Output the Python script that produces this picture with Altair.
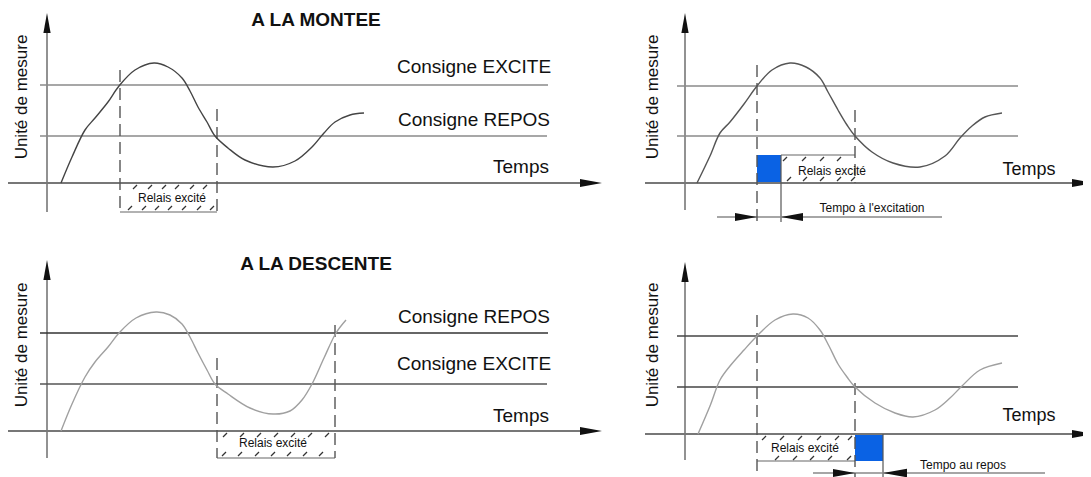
import altair as alt
import pandas as pd

# ---------------- data (pixel space of the picture) -------------
panels = ["montee", "descente", "excit", "repos"]

# response curves (x, y) per panel
curve_x = {
    "montee":   [61, 72, 85, 95, 108, 119, 135, 154, 168, 182, 190, 198, 207, 215, 228, 245, 273, 295, 312, 324, 335, 350, 364],
    "descente": [61, 72, 85, 95, 108, 119, 136, 156, 170, 182, 190, 198, 207, 215, 228, 250, 273, 290, 302, 312, 324, 336, 346],
    "excit":    [697, 710, 720, 730, 744, 757, 772, 790, 806, 820, 828, 838, 847, 855, 872, 893, 920, 945, 960, 972, 985, 1002],
    "repos":    [698, 710, 720, 730, 744, 757, 775, 793, 808, 820, 829, 838, 847, 855, 875, 895, 913, 935, 950, 962, 980, 1002],
}
curve_y = {
    "montee":   [183, 157, 130, 118, 102, 86, 70, 63, 67, 78, 91, 107, 122, 136, 148, 160, 167, 161, 147, 133, 122, 115, 113],
    "descente": [431, 404, 377, 362, 347, 333, 318, 312, 315, 324, 337, 353, 370, 384, 394, 408, 414, 411, 400, 384, 358, 333, 320],
    "excit":    [183, 156, 133, 122, 104, 86, 70, 63, 67, 78, 92, 110, 125, 136, 152, 163, 167, 156, 138, 126, 117, 113],
    "repos":    [434, 406, 380, 366, 350, 336, 320, 314, 318, 330, 346, 364, 377, 387, 403, 413, 417, 410, 398, 386, 370, 363],
}
curve_color = {"montee": "#444444", "descente": "#a0a0a0", "excit": "#555555", "repos": "#a0a0a0"}

# solid segments: x, x2, y, y2, colour, width
seg_x  = [47, 8, 40, 40, 120,   47, 8, 40, 40, 217,   685, 645, 677, 677, 781, 781, 717,   685, 645, 677, 677, 757, 883, 813]
seg_x2 = [47, 585, 548, 547, 217,   47, 585, 548, 547, 335,   685, 1078, 1018, 1018, 855, 781, 942,   685, 1078, 1018, 1018, 855, 883, 1045]
seg_y  = [30, 183, 85, 136, 212,   277, 431, 333, 384, 458,   30, 183, 86, 136, 155, 155, 217,   280, 434, 336, 387, 461, 434, 473]
seg_y2 = [212, 183, 85, 136, 212,   458, 431, 333, 384, 458,   210, 183, 86, 136, 155, 222, 217,   460, 434, 336, 387, 461, 477, 473]
seg_c  = ["#777777", "#777777", "#8a8a8a", "#8a8a8a", "#666666",
          "#777777", "#777777", "#333333", "#555555", "#666666",
          "#777777", "#777777", "#8a8a8a", "#8a8a8a", "#666666", "#555555", "#888888",
          "#777777", "#777777", "#444444", "#444444", "#666666", "#555555", "#888888"]
seg_w  = [1.6, 1.8, 1.4, 1.4, 1.2,
          1.6, 1.8, 1.6, 1.4, 1.2,
          1.6, 1.8, 1.4, 1.4, 1.2, 1.2, 1.4,
          1.6, 1.8, 1.6, 1.6, 1.2, 1.2, 1.4]

# dashed vertical markers
dash_x  = [120, 217, 217, 335, 757, 855, 757, 855]
dash_y  = [70, 109, 358, 325, 65, 110, 315, 383]
dash_y2 = [212, 212, 458, 458, 227, 183, 477, 477]

# blue delay blocks
blue_x  = [757, 855]
blue_x2 = [781, 883]
blue_y  = [155, 434]
blue_y2 = [183, 461]

# hatch ticks (x position, top of tick)
hatch_x = [133, 148, 162, 175, 190, 203,
           128, 142, 155, 168, 182, 197, 210,
           223, 240, 257, 274, 291, 308, 325,
           222, 238, 255, 271, 287, 303, 319,
           783, 802, 820, 837,
           787, 803, 820, 837, 851,
           762, 780, 798, 817, 835, 848,
           775, 793, 810, 828, 847]
hatch_y = [185] * 6 + [206] * 7 + [433] * 7 + [452] * 7 + [157] * 4 + [177] * 5 + [436] * 6 + [456] * 5

# arrow heads: centre x, centre y, direction angle, length
arrow_x = [47, 591, 47, 591, 685, 1083, 746, 792, 685, 1083, 844, 895]
arrow_y = [23, 183, 270, 431, 23, 183, 217, 217, 272, 434, 473, 473]
arrow_a = [0, 90, 0, 90, 0, 90, 90, 270, 0, 90, 90, 270]
arrow_l = [20, 22, 20, 22, 20, 22, 22, 22, 20, 22, 22, 24]

# labels
lab_text = ["Consigne EXCITE", "Consigne REPOS", "Temps",
            "Consigne REPOS", "Consigne EXCITE", "Temps",
            "Temps", "Temps",
            "Relais excité", "Relais excité", "Relais excité", "Relais excité",
            "Tempo à l'excitation", "Tempo au repos"]
lab_x = [474, 474, 521, 474, 474, 521, 1029, 1029, 172, 273, 832, 805, 872, 963]
lab_y = [67, 120, 167, 317, 364, 416, 170, 416, 198, 443, 171, 448, 208, 465]
lab_size = [19, 19, 19, 19, 19, 19, 18, 18, 12, 12, 12, 12, 12, 12]

title_text = ["A LA MONTEE", "A LA DESCENTE"]
title_x = [316, 316]
title_y = [20, 264]

ylab_text = ["Unité de mesure"] * 4
ylab_x = [22, 22, 653, 653]
ylab_y = [97, 345, 97, 345]

# ---------------- build tables ----------------
rows = []
for p in panels:
    for i, (xv, yv) in enumerate(zip(curve_x[p], curve_y[p])):
        rows.append({"p": p, "i": i, "x": xv, "y": yv, "c": curve_color[p]})
curves = pd.DataFrame(rows)

segs = pd.DataFrame({"x": seg_x, "x2": seg_x2, "y": seg_y, "y2": seg_y2, "c": seg_c, "w": seg_w})
dashes = pd.DataFrame({"x": dash_x, "y": dash_y, "y2": dash_y2})
blues = pd.DataFrame({"x": blue_x, "x2": blue_x2, "y": blue_y, "y2": blue_y2})
hatch = pd.DataFrame({"x": hatch_x, "y2": hatch_y})
hatch["x2"] = hatch["x"] + 4
hatch["y"] = hatch["y2"] + 4
arrows = pd.DataFrame({"x": arrow_x, "y": arrow_y, "a": arrow_a, "s": [l * l for l in arrow_l]})
labels = pd.DataFrame({"x": lab_x, "y": lab_y, "t": lab_text, "fs": lab_size})
titles = pd.DataFrame({"x": title_x, "y": title_y, "t": title_text})
ylabs = pd.DataFrame({"x": ylab_x, "y": ylab_y, "t": ylab_text})

XS = alt.Scale(domain=[8, 1083], nice=False, zero=False)
YS = alt.Scale(domain=[8, 477], nice=False, zero=False, reverse=True)
X = alt.X("x:Q", scale=XS, axis=None)
Y = alt.Y("y:Q", scale=YS, axis=None)
FONT = "Liberation Sans"

seg_layer = alt.Chart(segs).mark_rule().encode(
    x=X, x2="x2:Q", y=Y, y2="y2:Q",
    color=alt.Color("c:N", scale=None),
    strokeWidth=alt.StrokeWidth("w:Q", scale=None),
)
dash_layer = alt.Chart(dashes).mark_rule(color="#555555", strokeWidth=1.4, strokeDash=[12, 6]).encode(
    x=X, y=Y, y2="y2:Q"
)
blue_layer = alt.Chart(blues).mark_rect(color="#0a62e4").encode(x=X, x2="x2:Q", y=Y, y2="y2:Q")
hatch_layer = alt.Chart(hatch).mark_rule(color="#333333", strokeWidth=1.2).encode(
    x=X, x2="x2:Q", y=Y, y2="y2:Q"
)
curve_layer = alt.Chart(curves).mark_line(interpolate="catmull-rom", strokeWidth=1.4).encode(
    x=X, y=Y, detail="p:N", order="i:Q", color=alt.Color("c:N", scale=None)
)
arrow_layer = alt.Chart(arrows).mark_point(
    shape="M0,-1L0.36,1L-0.36,1Z", filled=True, color="#111111", opacity=1, strokeWidth=0
).encode(
    x=X, y=Y, angle=alt.Angle("a:Q", scale=None), size=alt.Size("s:Q", scale=None)
)
label_layer = alt.Chart(labels).mark_text(font=FONT, color="#111111", align="center", baseline="middle").encode(
    x=X, y=Y, text="t:N", size=alt.Size("fs:Q", scale=None)
)
title_layer = alt.Chart(titles).mark_text(
    font=FONT, fontSize=19, fontWeight="bold", color="#111111", align="center", baseline="middle"
).encode(x=X, y=Y, text="t:N")
ylab_layer = alt.Chart(ylabs).mark_text(
    font=FONT, fontSize=17, angle=270, color="#111111", align="center", baseline="middle"
).encode(x=X, y=Y, text="t:N")

chart = alt.layer(
    blue_layer, seg_layer, dash_layer, hatch_layer, curve_layer, arrow_layer,
    label_layer, title_layer, ylab_layer
).properties(
    width=1075, height=469, padding=0, autosize=alt.AutoSizeParams(type="none")
).configure_view(stroke=None)

chart.save("out.html", embed_options={"renderer": "svg", "actions": False})
